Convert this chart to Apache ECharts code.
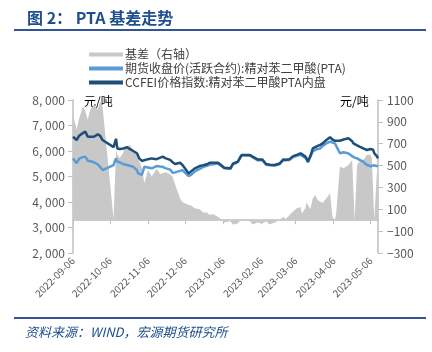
<!DOCTYPE html>
<html>
<head>
<meta charset="utf-8">
<script src="https://cdn.jsdelivr.net/npm/echarts@6/dist/echarts.min.js"></script>
<style>
    html, body { margin: 0; padding: 0; background: #fff; }
    #main { width: 432px; height: 352px; }
</style>
</head>
<body>
<div id="main"></div>
<script>
// sample dates (calendar days)
var dates = ['2022-09-06', '2022-09-09', '2022-09-11', '2022-09-14', '2022-09-16', '2022-09-18', '2022-09-20', '2022-09-23',
    '2022-09-26', '2022-09-28', '2022-09-30', '2022-10-09', '2022-10-10', '2022-10-11', '2022-10-12', '2022-10-14',
    '2022-10-17', '2022-10-18', '2022-10-20', '2022-10-22', '2022-10-25', '2022-10-28', '2022-10-29', '2022-10-30',
    '2022-11-01', '2022-11-03', '2022-11-06', '2022-11-09', '2022-11-13', '2022-11-16', '2022-11-18', '2022-11-20',
    '2022-11-24', '2022-11-26', '2022-11-28', '2022-12-02', '2022-12-04', '2022-12-06', '2022-12-09', '2022-12-11',
    '2022-12-14', '2022-12-18', '2022-12-21', '2022-12-24', '2022-12-26', '2022-12-29', '2023-01-02', '2023-01-05',
    '2023-01-07', '2023-01-12', '2023-01-14', '2023-01-18', '2023-01-21', '2023-01-28', '2023-01-30', '2023-02-03',
    '2023-02-07', '2023-02-10', '2023-02-13', '2023-02-17', '2023-02-21', '2023-02-24', '2023-02-26', '2023-03-01',
    '2023-03-04', '2023-03-07', '2023-03-10', '2023-03-11', '2023-03-14', '2023-03-15', '2023-03-16', '2023-03-18',
    '2023-03-20', '2023-03-22', '2023-03-24', '2023-03-26', '2023-03-28', '2023-03-31', '2023-04-03', '2023-04-05',
    '2023-04-07', '2023-04-08', '2023-04-11', '2023-04-14', '2023-04-15', '2023-04-18', '2023-04-21', '2023-04-22',
    '2023-04-23', '2023-04-25', '2023-04-27', '2023-04-30', '2023-05-03', '2023-05-06', '2023-05-07', '2023-05-08',
    '2023-05-09', '2023-05-11', '2023-05-12'];

// CCFEI价格指数:精对苯二甲酸PTA内盘
var spotPrice = [6560, 6430, 6600, 6700, 6760, 6560, 6560, 6560,
    6650, 6600, 6430, 6150, 6200, 6480, 6100, 6080,
    6100, 6130, 6150, 6080, 6000, 5910, 5850, 5700,
    5610, 5640, 5680, 5710, 5680, 5740, 5780, 5720,
    5650, 5560, 5490, 5540, 5450, 5320, 5120, 5200,
    5320, 5410, 5440, 5480, 5540, 5540, 5540, 5420,
    5340, 5320, 5500, 5580, 5840, 5840, 5780, 5670,
    5670, 5490, 5460, 5450, 5510, 5670, 5660, 5680,
    5800, 5850, 5910, 5880, 5780, 5700, 5580, 5800,
    6100, 6150, 6200, 6240, 6300, 6430, 6540, 6450,
    6400, 6400, 6400, 6450, 6470, 6500, 6380, 6300,
    6280, 6220, 6170, 6100, 6040, 6080, 6100, 6050,
    5910, 5800, 5710];

// 期货收盘价(活跃合约):精对苯二甲酸(PTA)
var futuresPrice = [5710, 5520, 5700, 5760, 5780, 5620, 5600, 5560,
    5480, 5380, 5250, 5450, 5600, 5710, 5580, 5560,
    5480, 5470, 5450, 5420, 5380, 5250, 5120, 5080,
    5060, 5380, 5350, 5320, 5410, 5390, 5380, 5330,
    5270, 5150, 5160, 5220, 5250, 5150, 5020, 5060,
    5200, 5300, 5380, 5420, 5460, 5480, 5510, 5400,
    5320, 5300, 5480, 5560, 5820, 5820, 5760, 5640,
    5640, 5460, 5440, 5430, 5480, 5640, 5640, 5650,
    5760, 5810, 5850, 5830, 5730, 5680, 5560, 5780,
    5980, 6040, 6080, 6100, 6200, 6300, 6370, 6330,
    6300, 6200, 5910, 5950, 5980, 5900, 5800, 5760,
    5740, 5710, 5650, 5580, 5450, 5400, 5450, 5440,
    5420, 5410, 5420];

// 基差（右轴）
var basis = [960, 830, 930, 1040, 1000, 920, 1010, 1054,
    1010, 1085, 1040, 10, 0, 640, 600, 570,
    620, 673, 680, 688, 643, 600, 560, 551,
    480, 338, 460, 400, 470, 423, 430, 440,
    420, 398, 330, 200, 165, 155, 140, 135,
    110, 100, 70, 70, 50, 55, 30, 5,
    -20, -10, -40, -30, 10, -10, -40, -20,
    -30, -10, -40, -20, 5, 30, 10, 48,
    80, 109, 120, 62, 110, 170, 140, 100,
    200, 231, 185, 170, 160, 200, 246, 30,
    0, 62, 490, 475, 490, 506, 551, 566,
    0, 506, 540, 551, 597, 600, 566, 560,
    0, 430, 300];

var axisStart = '2022-09-06';
var axisEnd = '2023-05-12';

// every calendar day on the x axis
function buildDays(from, to) {
    var out = [];
    var d = new Date(from + 'T00:00:00Z');
    var e = new Date(to + 'T00:00:00Z');
    while (d <= e) {
        out.push(d.toISOString().slice(0, 10));
        d.setUTCDate(d.getUTCDate() + 1);
    }
    return out;
}
var days = buildDays(axisStart, axisEnd);

function pairs(vals) {
    return dates.map(function (d, i) { return [d, vals[i]]; });
}

function isMonthTick(idx, val) {
    return val.slice(8) === '06';
}

var blueText = '#1F4E8C';
var axisGray = '#BFBFBF';
var labelGray = '#595959';

var myChart = echarts.init(document.getElementById('main'));
var option = {
    backgroundColor: '#fff',
    animation: false,
    title: {
        text: '图 2： PTA 基差走势',
        left: 22,
        top: 5,
        textStyle: {
            color: blueText,
            fontSize: 16,
            fontWeight: 'bold',
            fontFamily: 'Noto Sans CJK SC'
        }
    },
    legend: {
        orient: 'vertical',
        left: 84,
        top: 43,
        itemWidth: 34,
        itemHeight: 4,
        itemGap: 1,
        icon: 'rect',
        textStyle: {
            color: '#404040',
            fontSize: 12,
            lineHeight: 13,
            fontFamily: 'Noto Sans CJK SC',
            padding: [0, 0, 0, -3]
        },
        data: [
            { name: '基差（右轴）', icon: 'rect' },
            { name: '期货收盘价(活跃合约):精对苯二甲酸(PTA)', icon: 'rect' },
            { name: 'CCFEI价格指数:精对苯二甲酸PTA内盘', icon: 'rect' }
        ]
    },
    grid: {
        left: 73,
        right: 54,
        top: 100,
        bottom: 99
    },
    xAxis: {
        type: 'category',
        data: days,
        boundaryGap: false,
        axisLine: { lineStyle: { color: axisGray, width: 1.5 } },
        axisTick: {
            interval: isMonthTick,
            length: 4,
            lineStyle: { color: axisGray }
        },
        axisLabel: {
            interval: isMonthTick,
            rotate: 45,
            fontSize: 10,
            color: labelGray,
            margin: 6,
            fontFamily: 'Noto Sans CJK SC'
        },
        splitLine: { show: false }
    },
    yAxis: [
        {
            type: 'value',
            min: 2000,
            max: 8000,
            interval: 1000,
            axisLine: { show: true, lineStyle: { color: axisGray, width: 1.5 } },
            axisTick: { show: true, length: 5, lineStyle: { color: axisGray } },
            axisLabel: {
                fontSize: 12,
                color: labelGray,
                margin: 8,
                fontFamily: 'Noto Sans CJK SC',
                formatter: function (v) {
                    return Math.floor(v / 1000) + ', 000';
                }
            },
            splitLine: { show: false }
        },
        {
            type: 'value',
            min: -300,
            max: 1100,
            interval: 200,
            position: 'right',
            axisLine: { show: true, lineStyle: { color: axisGray, width: 1.5 } },
            axisTick: { show: true, length: 5, lineStyle: { color: axisGray } },
            axisLabel: {
                fontSize: 12,
                color: labelGray,
                margin: 9,
                fontFamily: 'Noto Sans CJK SC',
                formatter: function (v) {
                    return v < 0 ? '\u2212' + Math.abs(v) : String(v);
                }
            },
            splitLine: { show: false }
        }
    ],
    series: [
        {
            name: '基差（右轴）',
            type: 'line',
            yAxisIndex: 1,
            symbol: 'none',
            color: '#C8C8C8',
            lineStyle: { width: 0 },
            areaStyle: { color: '#C8C8C8', opacity: 1 },
            data: pairs(basis)
        },
        {
            name: '期货收盘价(活跃合约):精对苯二甲酸(PTA)',
            type: 'line',
            symbol: 'none',
            color: '#5B9BD5',
            lineStyle: { width: 2.5, color: '#5B9BD5' },
            data: pairs(futuresPrice)
        },
        {
            name: 'CCFEI价格指数:精对苯二甲酸PTA内盘',
            type: 'line',
            symbol: 'none',
            color: '#1F4E79',
            lineStyle: { width: 2.5, color: '#1F4E79' },
            data: pairs(spotPrice)
        }
    ],
    graphic: [
        {
            type: 'line',
            shape: { x1: 14, y1: 30, x2: 426, y2: 30 },
            style: { stroke: '#2F5597', lineWidth: 2 }
        },
        {
            type: 'line',
            shape: { x1: 14, y1: 318, x2: 426, y2: 318 },
            style: { stroke: '#2F5597', lineWidth: 2 }
        },
        {
            type: 'text',
            left: 25,
            top: 326,
            style: {
                text: '资料来源：WIND，宏源期货研究所',
                fill: blueText,
                fontSize: 13,
                fontStyle: 'italic',
                fontFamily: 'Noto Sans CJK SC'
            }
        },
        {
            type: 'text',
            left: 84,
            top: 95,
            style: { text: '元/吨', fill: '#000', fontSize: 12, fontFamily: 'Noto Sans CJK SC' }
        },
        {
            type: 'text',
            left: 340,
            top: 95,
            style: { text: '元/吨', fill: '#000', fontSize: 12, fontFamily: 'Noto Sans CJK SC' }
        }
    ]
};
myChart.setOption(option);
</script>
</body>
</html>
